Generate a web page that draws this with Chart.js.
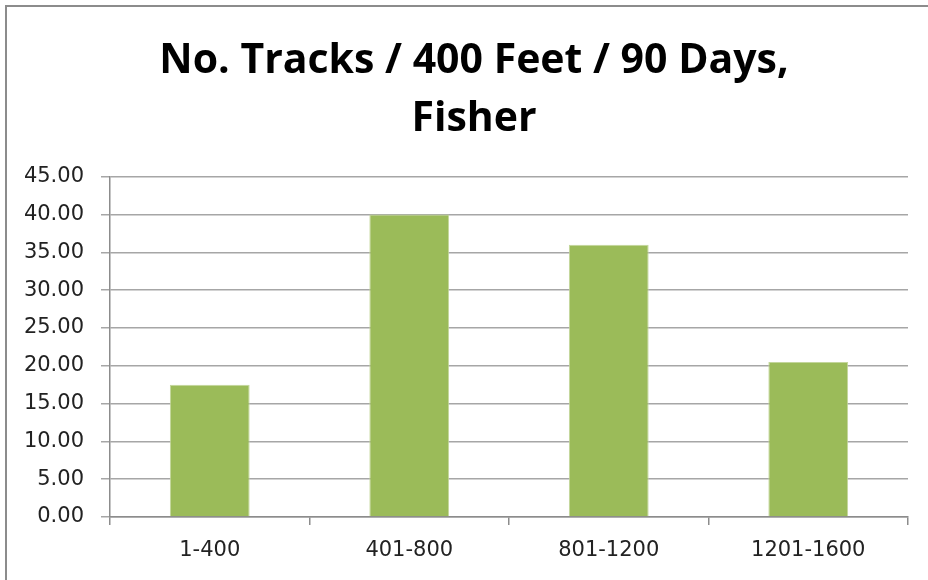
<!DOCTYPE html>
<html>
<head>
<meta charset="utf-8">
<script src="https://cdn.jsdelivr.net/npm/chart.js@4.4.1/dist/chart.umd.min.js"></script>
<style>
  html, body { margin: 0; padding: 0; background: #fff; }
  #wrap { position: relative; width: 928px; height: 580px; }
  #frame { position: absolute; left: 5px; top: 5px; width: 940px; height: 600px; border: 2px solid #8c8c8c; box-sizing: border-box; }
  canvas { position: absolute; left: 0; top: 0; }
</style>
</head>
<body>
<div id="wrap">
  <div id="frame"></div>
  <canvas id="tracksChart" width="928" height="580"></canvas>
</div>
<script>
const categories = ['1-400', '401-800', '801-1200', '1201-1600'];
const tracksPer400Ft = [17.5, 40.0, 36.0, 20.5];
const titleLines = ['No. Tracks / 400 Feet / 90 Days,', 'Fisher'];

const tracksChartCtx = document.getElementById('tracksChart').getContext('2d');

// the title sits a little right of the canvas middle, so nudge its box
const shiftTitle = {
  id: 'shiftTitle',
  afterLayout(chart) {
    if (chart.titleBlock) {
      chart.titleBlock.left = 40;
      chart.titleBlock.right = 908;
    }
  }
};

new Chart(tracksChartCtx, {
  type: 'bar',
  data: {
    labels: categories,
    datasets: [{
      label: 'Fisher',
      data: tracksPer400Ft,
      backgroundColor: '#9bbb59',
      borderColor: '#c3d69b',
      borderWidth: 1,
      categoryPercentage: 1,
      barPercentage: 0.4
    }]
  },
  plugins: [shiftTitle],
  options: {
    responsive: false,
    animation: false,
    layout: {
      padding: { left: 0, right: 20, top: 0, bottom: 0 }
    },
    plugins: {
      legend: { display: false },
      tooltip: { enabled: false },
      title: {
        display: true,
        text: titleLines,
        color: '#000',
        font: { family: 'Open Sans', size: 41, weight: 'bold', lineHeight: 1.4 },
        padding: { top: 33, bottom: 29 }
      }
    },
    scales: {
      y: {
        min: 0,
        max: 45,
        ticks: {
          stepSize: 5,
          color: '#222',
          font: { family: 'DejaVu Sans', size: 21 },
          padding: 17,
          callback: v => v.toFixed(2)
        },
        grid: { color: '#a6a6a6', lineWidth: 1.5, tickLength: 9 },
        border: { color: '#8c8c8c', width: 1.5 },
        afterFit: scale => { scale.width = 110; }
      },
      x: {
        ticks: {
          color: '#222',
          font: { family: 'DejaVu Sans', size: 21 },
          padding: 13
        },
        grid: { drawOnChartArea: false, color: '#8c8c8c', lineWidth: 1.5, tickLength: 8 },
        border: { color: '#8c8c8c', width: 1.5 },
        afterFit: scale => { scale.height = 63; }
      }
    }
  }
});
</script>
</body>
</html>
